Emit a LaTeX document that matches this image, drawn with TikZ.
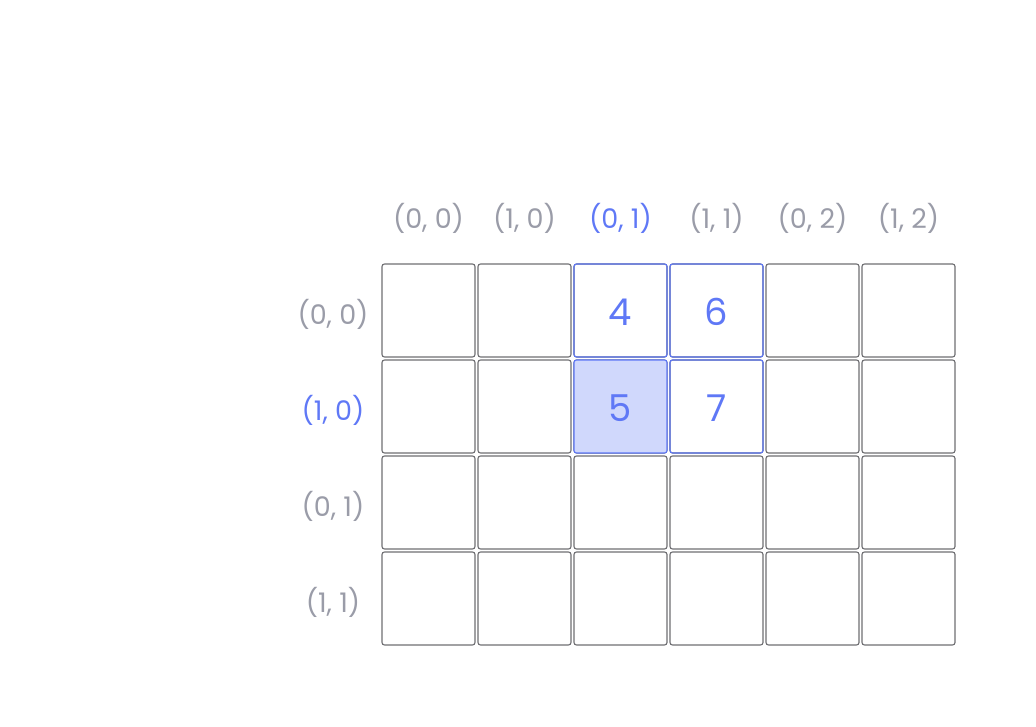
\documentclass[tikz,border=0pt]{standalone}
\usepackage{fontspec}
\setmainfont{Poppins}
\usepackage{tikz}
\usetikzlibrary{positioning}

\definecolor{cellgray}{HTML}{6E6E72}
\definecolor{labelgray}{HTML}{9A9CA8}
\definecolor{hiblue}{HTML}{5F78F6}
\definecolor{hifill}{HTML}{D0D8FC}

\begin{document}
\begin{tikzpicture}[x=1pt,y=1pt,
  cell/.style={rectangle,draw=cellgray,line width=1.1pt,rounded corners=2.5pt,minimum size=93pt,inner sep=0pt,font=\fontsize{37}{40}\selectfont,text=hiblue,text height=31pt,text depth=0pt},
  hicell/.style={cell,draw=hiblue},
  axis label/.style={font=\fontsize{27}{30}\selectfont,text=labelgray},
  hilabel/.style={axis label,text=hiblue}]

  \useasboundingbox (0,0) rectangle (1036,726);

  % grid cells
  \foreach \c in {0,...,5}
    \foreach \r in {0,...,3}
      \node[cell] (c\c\r) at (428.5+96*\c,415.5-96*\r) {};

  % block with values
  \node[hicell] (c20) at (c20) {4};
  \node[hicell] (c30) at (c30) {6};
  \node[hicell,fill=hifill] (c21) at (c21) {5};
  \node[hicell] (c31) at (c31) {7};

  % column labels
  \node[axis label] (col0) [above=26pt of c00] {(0, 0)};
  \node[axis label] (col1) [above=26pt of c10] {(1, 0)};
  \node[hilabel]    (col2) [above=26pt of c20] {(0, 1)};
  \node[axis label] (col3) [above=26pt of c30] {(1, 1)};
  \node[axis label] (col4) [above=26pt of c40] {(0, 2)};
  \node[axis label] (col5) [above=26pt of c50] {(1, 2)};

  % row labels
  \node[axis label] (row0) at (333,412) {(0, 0)};
  \node[hilabel]    (row1) at (333,316) {(1, 0)};
  \node[axis label] (row2) at (333,220) {(0, 1)};
  \node[axis label] (row3) at (333,124) {(1, 1)};
\end{tikzpicture}
\end{document}
